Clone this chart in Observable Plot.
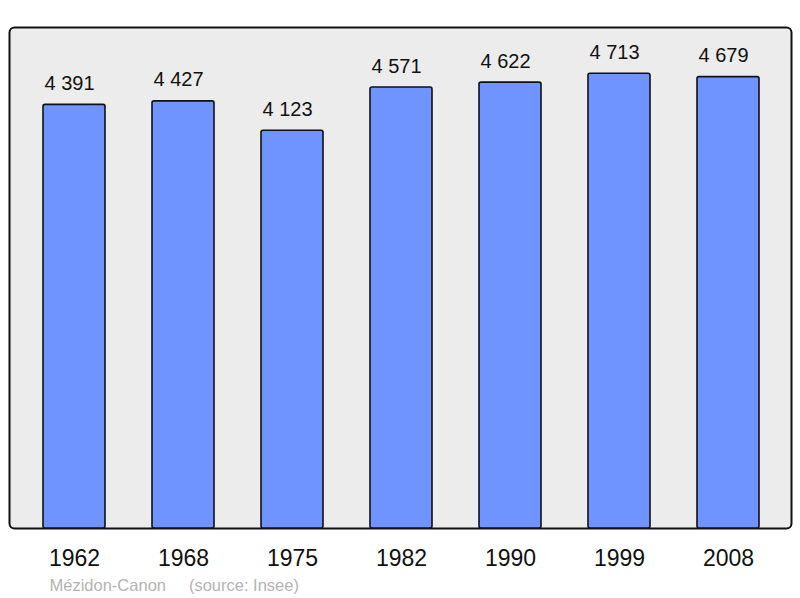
<!DOCTYPE html>
<html>
<head>
<meta charset="utf-8">
<script src="https://cdn.jsdelivr.net/npm/d3@7"></script>
<script src="https://cdn.jsdelivr.net/npm/@observablehq/plot@0.6"></script>
<style>
  html, body { margin: 0; padding: 0; background: #ffffff; }
  #chart { width: 800px; height: 598px; }
</style>
</head>
<body>
<div id="chart"></div>
<script>
const years = ["1962", "1968", "1975", "1982", "1990", "1999", "2008"];
const population = [4391, 4427, 4123, 4571, 4622, 4713, 4679];
const captionText = ["Mézidon-Canon\u00a0\u00a0\u00a0\u00a0\u00a0(source: Insee)"];

const data = years.map((y, i) => ({year: y, pop: population[i]}));
const fmt = v => String(v).replace(/\B(?=(\d{3})+$)/g, " ");

const font = "'Liberation Sans', Arial, sans-serif";

const chart = Plot.plot({
  width: 800,
  height: 598,
  marginTop: 27,
  marginBottom: 70,
  marginLeft: 9,
  marginRight: 9,
  style: {fontFamily: font, background: "#ffffff", overflow: "visible"},
  x: {type: "band", domain: years, paddingInner: 0.43, paddingOuter: 0.22, insetLeft: 9, insetRight: 6, label: null},
  y: {domain: [0, 5193], axis: null},
  marks: [
    Plot.frame({fill: "#ececec", stroke: "#111111", strokeWidth: 2, rx: 5}),
    Plot.barY(data, {x: "year", y: "pop", fill: "#7094ff", stroke: "#111111", strokeWidth: 1.6, rx: 2}),
    Plot.text(data, {
      x: "year", y: "pop", text: d => fmt(d.pop),
      textAnchor: "start", lineAnchor: "bottom", dx: -30, dy: -15,
      fontSize: 20, fill: "#111111"
    }),
    Plot.axisX({tickSize: 0, tickPadding: 21, fontSize: 23, fill: "#111111", label: null}),
    Plot.text(captionText, {
      frameAnchor: "bottom-left", text: d => d, textAnchor: "start", lineAnchor: "bottom",
      dx: 40, dy: 62, fontSize: 16.5, fill: "#b3b3b3"
    })
  ]
});
document.getElementById("chart").appendChild(chart);
</script>
</body>
</html>
